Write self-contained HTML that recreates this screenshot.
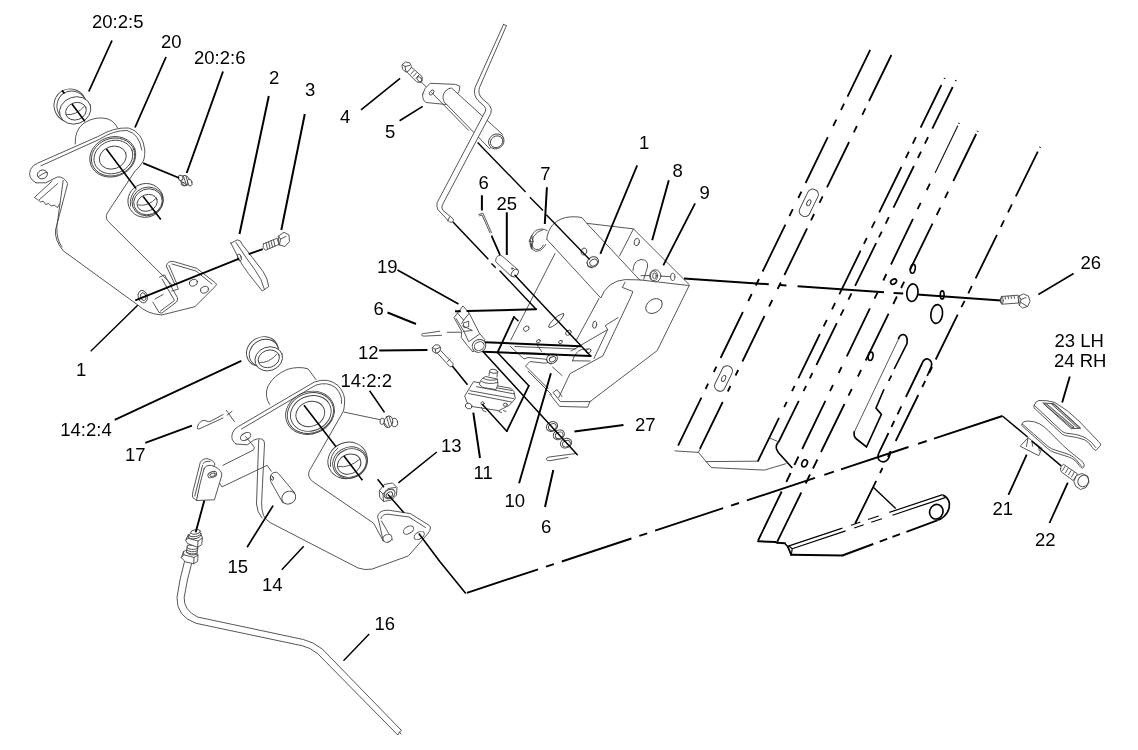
<!DOCTYPE html>
<html><head><meta charset="utf-8">
<style>
html,body{margin:0;padding:0;background:#fff;width:1138px;height:750px;overflow:hidden}
svg{display:block;position:absolute;left:0;top:0;will-change:transform;opacity:.999}
text{font-family:"Liberation Sans",sans-serif;font-size:18.5px;fill:#000}
.k{stroke:#000;stroke-width:1.65;fill:none;stroke-linecap:butt}
.k2{stroke:#000;stroke-width:1.65;fill:none;stroke-linecap:butt}
.k3{stroke:#000;stroke-width:1.15;fill:none}
.t{stroke:#444;stroke-width:.9;fill:none;stroke-linejoin:round;stroke-linecap:round}
.tw{stroke:#444;stroke-width:.9;fill:#fff;stroke-linejoin:round;stroke-linecap:round}
</style></head><body>
<svg width="1138" height="750" viewBox="0 0 1138 750">
<!-- LABELS -->
<g id="labels" style="opacity:.999">
<text x="92" y="28">20:2:5</text>
<text x="161" y="48">20</text>
<text x="194" y="64">20:2:6</text>
<text x="269" y="84">2</text>
<text x="305" y="96">3</text>
<text x="76" y="375.5">1</text>
<text x="60.3" y="436">14:2:4</text>
<text x="125" y="460.7">17</text>
<text x="340.5" y="386.5">14:2:2</text>
<text x="358" y="359.3">12</text>
<text x="441" y="451.5">13</text>
<text x="473.5" y="479.3">11</text>
<text x="227.5" y="572.5">15</text>
<text x="262" y="590.6">14</text>
<text x="374.5" y="630.3">16</text>
<text x="340" y="122.5">4</text>
<text x="385" y="137.7">5</text>
<text x="478.5" y="189.4">6</text>
<text x="496.5" y="209.5">25</text>
<text x="540.2" y="180.3">7</text>
<text x="639" y="149">1</text>
<text x="377" y="272.5">19</text>
<text x="635" y="431.2">27</text>
<text x="672.6" y="176.8">8</text>
<text x="699.5" y="199">9</text>
<text x="373.5" y="315">6</text>
<text x="504.5" y="507.4">10</text>
<text x="541" y="533.3">6</text>
<text x="1080.5" y="269">26</text>
<text x="1054.5" y="347">23 LH</text>
<text x="1054" y="367">24 RH</text>
<text x="992.5" y="515.3">21</text>
<text x="1035" y="546">22</text>
</g>
<!-- PART 20 group -->
<g id="p20" class="t">
<!-- bushing 20:2:5 -->
<ellipse cx="70.4" cy="105.6" rx="16.3" ry="16.8" transform="rotate(-25 70.4 105.6)"/>
<ellipse cx="72" cy="106.5" rx="15" ry="15.5" transform="rotate(-25 72 106.5)"/>
<ellipse cx="75.2" cy="110.4" rx="16" ry="13.4" transform="rotate(-20 75.2 110.4)" class="tw"/>
<ellipse cx="76" cy="111.2" rx="10.6" ry="8.6" transform="rotate(-20 76 111.2)"/>
<path d="M66.5 114.5Q76 116 84.5 106"/>
<!-- boss -->
<path d="M75.2 144Q74.5 130 84 123Q96 115.5 108 119Q114.5 121.5 117.6 128"/>
<!-- plate outline -->
<path d="M36 182.8Q27 178 30.5 169.5Q33 164.5 37.6 163.2L98 136.5Q114 127 128.5 128Q143 132 144.8 150Q145 160 142 163Q138 169 135.2 170.8L107.2 213.2Q104.5 218.5 109.6 222.8L171.8 284.6"/>
<path d="M41 165.8L99 139.5Q114 130 127 130.5Q139.5 134 141.8 150"/>
<path d="M36 182.8L45.6 182.8L57.6 176.9Q64 176.5 67.7 183.6L55.5 230Q54.5 240 63.2 250.8L137.7 304.9Q147 314 161.7 315L194.9 306.7L216.1 285.5Q217 284 215.5 283L196.7 268.3L173.7 261.5Q167.5 260.5 166.3 266.1L174.6 283.7"/>
<path d="M63.2 180.4L56.8 226.8Q56.5 240 62 247"/>
<path d="M52 181.2L34.4 197.5L37.6 199.6L40.8 202L43.2 201.2L45.6 204.4L48.8 203.6L51.2 206L54.4 205.2L57.6 207.6L59.5 204"/>
<path d="M57.6 183.6L39.5 199.5"/>
<!-- small hole -->
<ellipse cx="42.4" cy="174.4" rx="5.1" ry="4.4" transform="rotate(-20 42.4 174.4)"/>
<path d="M38.5 176.5L46 172"/>
<!-- main ring -->
<ellipse cx="112.8" cy="156.8" rx="23.4" ry="19.8" transform="rotate(-20 112.8 156.8)"/>
<ellipse cx="113.1" cy="157" rx="22.1" ry="18.6" transform="rotate(-20 113.1 157)"/>
<ellipse cx="113.4" cy="157" rx="19.8" ry="16.4" transform="rotate(-20 113.4 157)"/>
<ellipse cx="112.8" cy="157.6" rx="13.8" ry="11.2" transform="rotate(-20 112.8 157.6)"/>
<!-- lower bushing -->
<ellipse cx="145.6" cy="200.4" rx="17.8" ry="16.8" transform="rotate(-20 145.6 200.4)" class="tw"/>
<path d="M130.5 206Q129 196 136.5 189"/>
<ellipse cx="147.6" cy="201.4" rx="15.8" ry="14.2" transform="rotate(-20 147.6 201.4)"/>
<ellipse cx="148" cy="201.8" rx="14.5" ry="12.8" transform="rotate(-20 148 201.8)"/>
<ellipse cx="147.2" cy="202.8" rx="10.4" ry="8.2" transform="rotate(-20 147.2 202.8)"/>
<path d="M138 205Q148 207 156.5 198"/>
<!-- triangle loop + tab -->
<path d="M169 265.5L176.5 283M172 264L196 271L212 284"/>
<path d="M159.5 277.2L164.5 274.8L177.4 297.5Q178 301 176.5 302L161.7 313.2L158.9 312.3L152.8 302"/>
<path d="M162 279L174.5 300.5L160.5 311"/>
<path d="M171.8 291L178.3 289.2L176.5 284"/>
<path d="M155 299L163 294.5"/>
<ellipse cx="193.4" cy="282.7" rx="4.2" ry="3.2" transform="rotate(-20 193.4 282.7)"/>
<ellipse cx="204.5" cy="289.7" rx="4.2" ry="3.2" transform="rotate(-20 204.5 289.7)"/>
<!-- nut on left -->
<ellipse cx="142.8" cy="296.6" rx="4.6" ry="6.3" transform="rotate(-15 142.8 296.6)" class="tw"/>
<ellipse cx="143.3" cy="296.6" rx="2.6" ry="4" transform="rotate(-15 143.3 296.6)"/>
<!-- grease fitting 20:2:6 -->
<ellipse cx="185" cy="180.5" rx="4.3" ry="5.2" transform="rotate(-25 185 180.5)" class="tw"/>
<ellipse cx="180.6" cy="177.8" rx="2.3" ry="2.6" transform="rotate(-25 180.6 177.8)" class="tw"/>
<ellipse cx="189.8" cy="182.6" rx="2.2" ry="3.5" transform="rotate(-15 189.8 182.6)" class="tw"/>
<ellipse cx="183.6" cy="184.3" rx="2.6" ry="1.5" transform="rotate(20 183.6 184.3)"/>
<path d="M183.5 176.5L186.5 185M186 176L188.3 184.5M181 181L184 183"/>
<!-- pad 2 -->
<path d="M230.9 243.1L237.3 239.9Q241 240 242 244Q252 257 263.2 271.7Q268 279 268.7 286.5L262.3 291.1Q255 282 248.4 273.5Q243 266 239.2 259.7Q235 251 230.9 243.1Z" class="tw"/>
<path d="M236 242.5Q246 258 255 270Q262 279 264.5 289.5"/>
<ellipse cx="239.4" cy="257.5" rx="1.8" ry="3.6" transform="rotate(-15 239.4 257.5)"/>
<!-- bolt 3 -->
<path d="M263.5 243.8L277 238.2L279 244.5L265.5 250.2Q262 248 263.5 243.8Z" class="tw"/>
<path d="M266 243L267.5 249M268.5 242L270 248M271 241L272.5 247M273.5 240L275 246"/>
<path d="M278.5 236L284 232.3L289 235L289.5 241.5L285 246.5L279.5 245Z" class="tw"/>
<path d="M278.5 236L280.5 239L279.5 245M280.5 239L286 236.5"/>
</g>
<!-- PART 14 group -->
<g id="p14" class="t">
<!-- bushing 14:2:4 -->
<ellipse cx="262.4" cy="351.6" rx="16.4" ry="14.4" transform="rotate(-30 262.4 351.6)"/>
<ellipse cx="264" cy="353" rx="15.2" ry="13.2" transform="rotate(-30 264 353)"/>
<ellipse cx="268.8" cy="358.8" rx="14.1" ry="11.8" transform="rotate(-20 268.8 358.8)" class="tw"/>
<ellipse cx="268.8" cy="358.8" rx="10.9" ry="8.6" transform="rotate(-20 268.8 358.8)"/>
<path d="M259.5 362.5Q269 363.5 277 354"/>
<!-- boss -->
<path d="M269.6 404.4Q264 396 268 386Q274 375 287 369.5Q298 366 308 368.8L316 379.6"/>
<!-- plate outline -->
<path d="M236 444Q230 440 232.5 433Q234 428.5 238.4 426.5L314.4 382Q328 377 338 385.5Q346 394 344.5 404Q344 410 343.2 411.6L309.6 470.4Q306.5 476.5 312.8 481.6L373.6 523.2L383.2 540.8"/>
<path d="M241.5 429L315.5 385.3Q327.5 381 336 388Q342.5 395 341.5 403.5"/>
<path d="M236 444L247.2 444.8L253.6 440.2Q258 438 261.5 439Q265 440 264.5 444L261.6 502.4Q261.5 510 263.5 515.5Q266 520 270 522.5L358.1 568Q365 570.5 372 569.1L408.4 555.9L427.5 534Q431 530.5 430.4 527Q430 525.5 427 524L410.4 513.6L389.6 510.3Q381 509.5 378.2 514.5Q377 517 378.5 520L383.2 540.8"/>
<path d="M258.7 440L256.5 504Q257 512 262 518"/>
<path d="M381 518.5Q382 514 388 514.2L409 517L425.5 527.5"/>
<path d="M381.5 521L392.5 540"/>
<ellipse cx="387.5" cy="538.3" rx="4.6" ry="3.8" transform="rotate(-25 387.5 538.3)" class="tw"/>
<ellipse cx="408.5" cy="530.1" rx="5.6" ry="3.4" transform="rotate(-32 408.5 530.1)"/>
<ellipse cx="419.2" cy="535.5" rx="5.6" ry="3.4" transform="rotate(-32 419.2 535.5)"/>
<!-- arm hole -->
<ellipse cx="245.6" cy="436.5" rx="5.6" ry="3.4" transform="rotate(-28 245.6 436.5)"/>
<!-- construction lines -->
<path d="M245.6 436.5L254.4 447.2L253.6 449.9L222.9 465.3M214.4 475.2L221.9 486.9L267.2 465.3L271.2 471.2"/>
<!-- main ring -->
<ellipse cx="310" cy="412.8" rx="24.9" ry="21" transform="rotate(-22 310 412.8)"/>
<ellipse cx="310.4" cy="413" rx="23.6" ry="19.8" transform="rotate(-22 310.4 413)"/>
<ellipse cx="310.8" cy="413.4" rx="20.8" ry="17.4" transform="rotate(-22 310.8 413.4)"/>
<ellipse cx="310.3" cy="414" rx="14.7" ry="12.3" transform="rotate(-22 310.3 414)"/>
<!-- lower bushing -->
<ellipse cx="347.6" cy="460.4" rx="20" ry="18" transform="rotate(-22 347.6 460.4)" class="tw"/>
<path d="M330.5 466.5Q329 455 338 448" />
<ellipse cx="350" cy="462.6" rx="17.6" ry="15.4" transform="rotate(-22 350 462.6)"/>
<ellipse cx="350.4" cy="463" rx="16.2" ry="14" transform="rotate(-22 350.4 463)"/>
<ellipse cx="349.2" cy="464.1" rx="12" ry="9.8" transform="rotate(-22 349.2 464.1)"/>
<path d="M338.5 466.5Q349 468.5 360 459"/>
<!-- grease fitting 14:2:2 -->
<path d="M344 412.1L380 419.7" />
<ellipse cx="394.3" cy="422.5" rx="3.3" ry="4.2" transform="rotate(-10 394.3 422.5)" class="tw"/>
<ellipse cx="388.4" cy="421.8" rx="4.3" ry="5.9" transform="rotate(15 388.4 421.8)" class="tw"/>
<ellipse cx="382.2" cy="421.3" rx="2.2" ry="3.2" transform="rotate(10 382.2 421.3)" class="tw"/>
<path d="M386.5 416.5L389.5 427M389 416.3L391.8 424.5M385 423.5L387.5 427.5"/>
<!-- cotter 17 -->
<path d="M223 414.5L211.5 420.8Q208 422.5 206.5 421Q204.5 419.5 201.5 421Q197.5 423.5 197.3 427.5Q197.2 429.8 199 429L223 418"/>
<path d="M226.4 410.4L234.4 421.6M227.2 415.2L232 411.2"/>
<!-- clevis -->
<path d="M200.5 462Q203 458 208 458.8Q213.5 460 215 464L196.5 500.5L192.8 497.5Q192 495 192.8 492Z" class="tw"/>
<path d="M203 463.5Q205.5 460.5 210 461.5M194.8 496L202.5 465.5M197.2 497.5L205 467.5"/>
<path d="M204 469Q206 464.5 211.5 465.5Q219 467.5 221.6 473Q222 475 221.3 477L214.4 499.8L196.5 500.5Q199.5 484 204 469Z" class="tw"/>
<ellipse cx="212.3" cy="474.6" rx="4.6" ry="2.8" transform="rotate(-22 212.3 474.6)"/>
<ellipse cx="212.6" cy="474.8" rx="2.8" ry="1.5" transform="rotate(-22 212.6 474.8)"/>
<!-- pin 15 -->
<path d="M270.6 481Q269 474 274 472.5Q277 471.5 278.5 473.5L294.8 493L283 502.5Z" class="tw"/>
<ellipse cx="288.8" cy="497.6" rx="7.2" ry="6.2" transform="rotate(-30 288.8 497.6)" class="tw"/>
<ellipse cx="272" cy="478" rx="1.3" ry="2.4" transform="rotate(-20 272 478)"/>
<!-- nut 13 -->
<path d="M379.5 490.5L384 484.5L392.5 483L397 487.5L396.5 495L391.5 500L383.5 501.5L380 497.5Z" class="tw"/>
<path d="M379.5 490.5L383 494L383.5 501.5M383 494L388 488.5L395.5 487.5"/>
<ellipse cx="389.6" cy="494" rx="5.8" ry="4.3" transform="rotate(-32 389.6 494)"/>
<ellipse cx="389.3" cy="494.8" rx="3.6" ry="2.4" transform="rotate(-32 389.3 494.8)"/>
<!-- fitting + rod 16 -->
<path d="M191.6 563.5Q186.8 580 184.2 597.5Q183.5 610 197.5 617L303.3 639.5Q313 641.7 322.3 649L401.5 730.5L399.5 732L397.8 735L317.7 653.7Q310 647.3 302 645.7L196 623.3Q176.3 616.5 177 597.5Q179.3 580 184.5 561.5"/>
<path d="M399.5 732L401 734"/>
<!-- lower hex -->
<path d="M181.5 557.3L183.5 551.5L187 550L198 555L197.7 561.3L193.7 563.7L185.7 562Z" class="tw"/>
<path d="M193.7 563.7L194 557.5L198 555M194 557.5L183.8 554.8L181.5 557.3M183.8 554.8L183.5 551.5"/>
<!-- middle threads -->
<path d="M187.3 545.5L186.5 552.5Q191 556.5 197 554L198 546Z" class="tw"/>
<path d="M186.8 547.5Q191 551 197.8 548.5M186.6 549.8Q191 553.3 197.5 550.8M186.5 552Q191 555.5 197.2 553"/>
<!-- upper hex -->
<path d="M185.8 540L188.3 534.8L200.7 533.5L202.4 538L201.7 544.6L197.6 547.3L187.8 543.6Z" class="tw"/>
<path d="M197.6 547.3L198 541L202.4 538M198 541L188.2 538.3L185.8 540M188.2 538.3L188.3 534.8"/>
<!-- top threads -->
<ellipse cx="194.6" cy="536.2" rx="6.2" ry="2.5" transform="rotate(-8 194.6 536.2)" class="tw"/>
<ellipse cx="195" cy="534.2" rx="6" ry="2.4" transform="rotate(-8 195 534.2)" class="tw"/>
<ellipse cx="195.6" cy="531.9" rx="4.8" ry="2.2" transform="rotate(-8 195.6 531.9)" class="tw"/>
</g>
<!-- CENTER group -->
<g id="pc" class="t">
<!-- bolt 4 -->
<path d="M402.3 64.5L405.5 62L409.8 62.8L411.5 66.5L410 70.5L406 72L402.8 69.5Z" class="tw"/>
<path d="M402.3 64.5L405 66.5L406 72M405 66.5L409.5 65.5"/>
<path d="M407.3 72L411.8 67.5L422 76.5Q423 79.5 421 81.8Q419 83.2 417 82Z" class="tw"/>
<path d="M411 74L414 70.5M413.5 76.2L416.5 72.8M416 78.4L419 75"/>
<ellipse cx="419.6" cy="79.4" rx="2" ry="3.2" transform="rotate(-42 419.6 79.4)"/>
<path d="M420.5 81.2L431.2 91.9"/>
<!-- part 5 -->
<path d="M422.7 94Q424 88 430.1 83.3L455.7 84.4L460 86.5L458.9 91.9L448.3 104.7L425.9 102.5Q422 99.5 422.7 94Z" class="tw"/>
<ellipse cx="431.6" cy="92.5" rx="1.7" ry="3" transform="rotate(40 431.6 92.5)"/>
<path d="M431.6 92.5L468.5 130.3"/>
<path d="M444 101.5Q441.5 96 445 91.5Q448 88 451.5 88L502.7 134.5L489.9 148.4Z" class="tw"/>
<ellipse cx="496.3" cy="141.4" rx="8.1" ry="7.2" transform="rotate(-35 496.3 141.4)" class="tw"/>
<ellipse cx="496.6" cy="141.7" rx="6.5" ry="5.6" transform="rotate(-35 496.6 141.7)"/>
<!-- long rod -->
<path d="M503.5 24.5L506.5 25.5L479.5 87.5Q477.5 93.5 482 98.5L489.5 105Q492.5 109 490.8 113.5L442.4 204.8Q441 208 443 210.5L453 218.7Q454 220 453 221.5Q451.5 222.8 449.5 222L438 209.8Q436.2 206.5 437.1 202.7L485.5 111Q486.5 108.5 484.5 106.5L478 100.5Q473 95 475 87.6L503.5 24.5Z" class="tw"/>
<path d="M449.5 217L447.7 221"/>
<!-- cotter 6 top -->
<path d="M478.7 214.4L482.9 213.3L491.5 232.5M479.5 215.8L482 215L490 233"/>
<!-- sleeve 25 -->
<path d="M495.7 261.3Q495.5 256.5 499 255.5Q501 255 502.1 256L518.1 269.9L511.7 276.3Z" class="tw"/>
<ellipse cx="514.9" cy="273.1" rx="3" ry="4.4" transform="rotate(40 514.9 273.1)" class="tw"/>
<circle cx="512.2" cy="268.5" r=".8"/>
<!-- snap ring 7 -->
<path d="M547.2 230.6Q542 227.3 535.6 230.6Q531 234.5 530 243.4Q530.3 249 535.6 251.4Q540.4 252 544.4 246.6L545.6 244.6"/>
<path d="M542.8 229.8Q537.2 230.5 533.2 237Q531.5 243 532.8 247.4Q534.5 250 538.5 249.6Q541.5 248.6 543.6 245"/>
<path d="M529.2 241L531.6 235.4L533.2 241.8Z"/>
<path d="M531 243.5L531.8 248.5" style="stroke-width:1.6"/>
<!-- BOX 8 -->
<path d="M546.7 239.2Q547.5 231 553 224.5Q560 217.5 570.9 216.8Q579 216.5 582.1 217.7L586.8 223.3L633.5 228.9L689.5 284.9L657.2 350.6L590 401.6L587.6 407.2L559.6 406.4L550 394.4"/>
<path d="M546.7 239.2L600.8 298Q603 291 610 285Q617 280 625.1 279.6L640 279.9L688.5 285.5"/>
<path d="M586.8 223.3L640 280.3"/>
<path d="M633.5 228.9L619.5 256"/>
<path d="M555 253.5L510.8 340"/>
<path d="M599 298.5L576.4 340"/>
<path d="M625.1 282.1L622.3 287.4L632.9 291.5L630.7 297.1L602.8 356L570 373.6L558.8 397.6"/>
<path d="M590 401.6L560.4 401.6L553 392.5L557 389.5L562 396.5"/>
<path d="M633 270.5Q633 261 641 259.5Q648.5 259.5 647.5 267L643.7 279.3"/>
<ellipse cx="636.8" cy="242" rx="2.6" ry="3.7" transform="rotate(15 636.8 242)"/>
<ellipse cx="654" cy="306" rx="9" ry="6.6" transform="rotate(-35 654 306)"/>
<ellipse cx="584" cy="251.5" rx="2.8" ry="3.6" transform="rotate(20 584 251.5)"/>
<!-- nut 1 -->
<ellipse cx="592.8" cy="262" rx="6" ry="5" transform="rotate(-30 592.8 262)" class="tw"/>
<ellipse cx="593.6" cy="262.6" rx="4" ry="3.2" transform="rotate(-30 593.6 262.6)"/>
<path d="M587 262.5L588 266.5L592 268"/>
<!-- nut 9 -->
<path d="M641 275.6L649.5 275.6M660.5 276.2L669.9 276.5"/>
<ellipse cx="655.3" cy="275.8" rx="5.6" ry="6" class="tw"/>
<ellipse cx="654" cy="275.8" rx="3.6" ry="5"/>
<ellipse cx="654.5" cy="275.8" rx="1.8" ry="3"/>
<ellipse cx="672.7" cy="276.9" rx="2.2" ry="3.7"/>
<!-- box face holes -->
<ellipse cx="526.3" cy="328.6" rx="3" ry="2.4" transform="rotate(-35 526.3 328.6)"/>
<ellipse cx="556.3" cy="320.5" rx="10" ry="2.6" transform="rotate(-42 556.3 320.5)"/>
<ellipse cx="568.4" cy="332.7" rx="3" ry="2.3" transform="rotate(-35 568.4 332.7)"/>
<ellipse cx="594.7" cy="324.7" rx="2" ry="3.6" transform="rotate(10 594.7 324.7)"/>
<ellipse cx="538.4" cy="341.2" rx="2" ry="1.5" transform="rotate(-35 538.4 341.2)"/>
<ellipse cx="560.5" cy="342" rx="2" ry="1.5" transform="rotate(-35 560.5 342)"/>
<ellipse cx="588.6" cy="351" rx="2.6" ry="2" transform="rotate(-35 588.6 351)"/>
<!-- gusset -->
<path d="M571 351L607.6 329.6L605.2 325.6L618 317.6M607.6 329.6L594 358.4M572.5 360.8Q575 352 581.5 349.5L588 349M572.5 360.8L590 361"/>
<!-- channel under box -->
<path d="M510.4 346.5L524 359L528 357.5L544 359Q549 359.5 548.5 361.5Q548 363.5 543 363L530 361.5L525.5 366L548 388.5M528 371L551.5 394.5M515 346.5L576 349M521 352.5L545 353.5M536.5 344L541.5 351.5M552.5 367L562 375.5"/>
<!-- nut 10 -->
<ellipse cx="552" cy="358.7" rx="5.6" ry="4.6" transform="rotate(-25 552 358.7)" class="tw"/>
<ellipse cx="552.5" cy="359.2" rx="3.4" ry="2.4" transform="rotate(-25 552.5 359.2)"/>
<path d="M546.8 359.5L547.8 362.5L551 364"/>
<!-- pivot 19 -->
<path d="M463.3 306.2L467.3 310.9L469.2 313.2L479.4 333.3L485 339.8L472.9 352L467.3 345.4L461.2 337.5L461.7 331.4L454.2 317.9Z" class="tw"/>
<path d="M457.5 313.2L463.6 320.2L469.2 313.2M456.1 318.6L463.6 330.9L468.7 341.7L479.4 334.2M463.6 320.2L461.6 323.5"/>
<path d="M463.6 323L468.7 321.1L468.7 326.7L464.5 327.7Z"/>
<path d="M462.6 325.8L472.4 330.5L463.6 331.4"/>
<ellipse cx="479" cy="345.9" rx="7" ry="6.3" transform="rotate(-25 479 345.9)" class="tw"/>
<ellipse cx="479.2" cy="346.1" rx="5.1" ry="4.1" transform="rotate(-25 479.2 346.1)"/>
<!-- cotter 6 left -->
<path d="M439.7 331.2L425.7 333.3Q421.5 333 421.6 334.8Q421.8 336.5 424.5 336.1L441.6 335.3"/>
<path d="M447.2 332.3L460.8 332.2"/>
<!-- bolt 12 -->
<path d="M432.5 347.5L435 344.8L438.8 345L440.8 348L439.5 351.8L436 353.3L433 351.5Z" class="tw"/>
<path d="M432.5 347.5L435.2 349.2L436 353.3M435.2 349.2L440 347.5"/>
<path d="M437.8 353L440.6 350.5L453 363.5Q453.5 365.5 452.3 366.5Q451 367.2 449.8 366.5Z" class="tw"/>
<path d="M447.5 361.5L450.2 359"/>
<!-- switch 11 -->
<path d="M473.3 382L464.7 396L467 402.5L473.3 406.7L498.7 410.7L509.3 405.3L515.3 398.7L514 391.5L511 388.5Z" class="tw"/>
<path d="M470 390.7L514 398.7M468.5 393.5L511.5 402M476.5 386.7L514.7 394M480 385L512 390.5"/>
<path d="M479.5 384Q480 379 485.5 376.5L497.5 379Q499 385 496 389.5L483 387.5Z" class="tw"/>
<path d="M481.5 381.5Q488 385 497.8 382.5M483.5 378.5Q489 381.5 497.5 379.5"/>
<path d="M489 375.5L489.5 371.5Q493 369 497.5 371.5L497 377" class="tw"/>
<ellipse cx="493.6" cy="371.3" rx="4.1" ry="2" transform="rotate(8 493.6 371.3)" class="tw"/>
<ellipse cx="468.6" cy="406" rx="3.4" ry="2.7" transform="rotate(20 468.6 406)" class="tw"/>
<circle cx="482.6" cy="403.4" r="1.6"/>
<ellipse cx="505.3" cy="404.7" rx="2" ry="1.6"/>
<path d="M481.5 407.5Q482 411.5 486 412M499 411.5L501.5 412.5M503.5 410.5L506 411.5"/>
<!-- washers 27 -->
<ellipse cx="552" cy="426.5" rx="5.8" ry="4.7" transform="rotate(-25 552 426.5)" class="tw"/>
<ellipse cx="552.4" cy="427" rx="4" ry="3.1" transform="rotate(-25 552.4 427)"/>
<ellipse cx="558.8" cy="434.8" rx="5.8" ry="4.7" transform="rotate(-25 558.8 434.8)" class="tw"/>
<ellipse cx="559.2" cy="435.3" rx="4" ry="3.1" transform="rotate(-25 559.2 435.3)"/>
<ellipse cx="566" cy="443.2" rx="5.8" ry="4.7" transform="rotate(-25 566 443.2)" class="tw"/>
<ellipse cx="566.4" cy="443.7" rx="4" ry="3.1" transform="rotate(-25 566.4 443.7)"/>
<!-- cotter 6 bottom -->
<path d="M576 453.5L549 457Q546 457.8 546.5 459.5Q547 461 550 460.7L568 457.5"/>
</g>
<!-- RIGHT group -->
<g id="pr">
<g class="k2">
<path d="M873.3 487.2L895.7 508.5" style="stroke-width:1.4"/>
<path d="M784.8 543.3L788 547" style="stroke-width:1.5;stroke-linecap:round"/>
<path d="M870.2 49.8L847.5 96.6M844.1 103.6L841 110M836.3 119.6L833.2 126M827.8 137.2L805.6 183M801.4 191.6L798.3 198M792.8 209.2L789.4 216.2M785.4 224.6L762.6 271.5M759 279L755.8 285.5M751.7 294L748.3 301M742.9 312L720.6 358M716.4 366.7L713.8 372M708.1 383.7L705.6 389M701.4 397.6L678.1 445.6M891.4 55L869 101M865.4 108.4L862.3 114.8M856.9 126L853.8 132.4M849.1 142L827 187.4M822.6 196.4L819.5 202.8M814.1 214L811 220.4M807.1 228.4L784.4 275M780.8 282.5L777.6 289M772.3 300L769.1 306.5M764.5 316L742.4 361.5M738.2 370L735.5 375.5M730.4 386L727.8 391.5M722.7 402L699.9 448.8M944.8 78L944.4 78.8M941.4 85L920.6 127.6M915.9 137.2L912.8 143.6M908.9 151.6L905.8 158M901.4 167L879.2 212.4M874.9 221.4L871.7 227.8M866.8 238L863.9 243.8M860.6 250.7L839.3 294.4M835.1 303L832 309.3M826.8 320L823.6 326.4M819.9 334L798.3 378.4M794.6 385.9L792 391.2M786.8 401.9L784.2 407.2M779 417.9L757.7 461.6M956 80.2L955.6 81M952.7 87L932.3 128.6M928.1 137.2L924.9 143.6M921 151.6L917.9 158M913.9 166L893.5 207.6M888.8 217.2L885.7 223.6M881.8 231.6L878.9 237.4M876.1 243.2L855.1 285.9M851.5 293.3L848.4 299.7M843.7 309.3L840.5 315.7M836.8 323.2L816.4 365M812.4 373L809.8 378.4M806.1 385.9L803.5 391.2M798.8 400.8L778.4 442.4M959.2 122.8L958.8 123.6M929.9 183.6L926.8 190M920.7 202.8L917.6 209.2M913 218.8L891 264.5M886.4 274L883.3 280.5M877.6 292.3L874.5 298.7M869.9 308.3L846.8 356.3M841.6 367L838.7 373M833 385L830 391.2M825.4 400.8L802.2 449M798.5 456.5L794.4 465M790.6 473L786.3 482M781.7 491.5L758.1 540.5M977.8 130.8L977.4 131.6M976.2 134L953.3 181M948.1 191.6L945 198M940.3 207.6L936.7 215M932.5 223.6L909.9 270M904.2 281.6L901.1 288M896.9 296.5L893.3 304M888.6 313.6L865.7 360.5M861.1 370L857.9 376.5M851.8 389L848.5 395.7M844.5 404L821 452M817.4 459.5L813 468.5M810 474.5L805.7 483.5M801.3 492.5L777.3 541.6M1040.2 146.8L1039.8 147.6M1037.8 151.6L1015.8 196.4M1011.9 204.4L1008 212.4M1004.1 220.4L1000.9 226.8M997 234.8L975.6 278.4M971.8 286L968.3 293.3M964.6 300.8L961.4 307.2M957.7 314.7L935.7 359.5M932.1 367L929.1 373M925.2 381L922.2 387M918.3 395L895.7 441M890.3 452L887.9 457M882.5 468L880 473M876.2 480.8L855.2 523.5M922.3 363L905.9 397M901.3 406.4L897.5 414.4M894.3 421L891.4 427M888.5 433L878.9 452.8" style="stroke-width:1.8"/>
<path d="M466.9 592.8L538.1 569.3M546 566.7L553.9 564.1M561.8 561.5L631.4 538.5M639.3 535.9L647.2 533.3M655.1 530.7L723.1 508.2M731 505.6L739 503M746.9 500.4L815 477.9M824.3 474.8L833.9 471.6M841 469.3L908.5 447M918 443.9L926.7 441M934 438.6L1002.4 416M842.4 555.5L873.3 544M879.7 541.7L887.2 538.9M892.5 536.9L900 534.1M906.4 531.8L937.3 520.3" style="stroke-width:1.9"/>
<path d="M775.2 542L777.3 542.7M788 547L791.2 554.8" style="stroke-width:1.9;stroke-linecap:round"/>
<path d="M684 278.4L768.8 284.3M780 285.1L786.4 285.5M797.6 286.3L884 292.3M893.6 292.9L903.2 293.6M917 294.6L1001 300.4" style="stroke-width:2"/>
<path d="M758.1 541.2L775.2 542M777.3 542.7L784.8 543.3M791.2 554.8L842.4 555.5" style="stroke-width:2;stroke-linecap:round"/>
<path d="M778.4 442.4Q775.5 445 776.5 449Q777.5 452 781 455.5L792.3 468"/>
<path d="M898.4 339.3Q899.5 334.5 903.5 334.5Q908 335.5 907 343.5L894.2 369M891.5 375.5L888.7 380.8M884 389.3L876 408L881.4 414.4L866.5 447L856.5 439Q853 436 854.4 431"/>
<path d="M922.3 363Q924 358.5 928 359Q932.5 360.5 931.4 366.4L927.2 376M878.9 452.8Q877 457 879 460Q882 463 886 461Q890 458.5 890.4 451"/>
<path d="M942.7 495.1Q948 497 949.3 503Q950 511 944 516.5Q941 519.5 937.3 520.3"/>

<!-- L4 curve bottom -->
<!-- slot1 thick -->
<!-- slot2 top arc + bottom -->
<!-- holes -->
<ellipse cx="912.8" cy="268.8" rx="2.4" ry="4.5" transform="rotate(10 912.8 268.8)"/>
<ellipse cx="893.6" cy="281.6" rx="3.2" ry="2.3" transform="rotate(-35 893.6 281.6)"/>
<ellipse cx="912.4" cy="292.7" rx="5.6" ry="8.8" transform="rotate(8 912.4 292.7)"/>
<ellipse cx="942.2" cy="295" rx="1.9" ry="4.1"/>
<ellipse cx="936.7" cy="314" rx="5.8" ry="9.4" transform="rotate(8 936.7 314)"/>
<ellipse cx="870.6" cy="356.3" rx="2.4" ry="4.2" transform="rotate(10 870.6 356.3)"/>
<ellipse cx="804.6" cy="463.3" rx="2.6" ry="3.7" transform="rotate(25 804.6 463.3)"/>
<!-- bracket -->
<ellipse cx="936.3" cy="511.7" rx="6.6" ry="7.4" transform="rotate(20 936.3 511.7)"/>
</g>
<g class="k3">
<path d="M789.0 545.9L842.4 528.1M851.0 525.2L860.5 522.0M868.0 519.5L878.7 516.0M889.3 512.4L942.7 494.6"/>
<path d="M792.2 548.7L845.6 530.9M854.2 528.0L863.7 524.8M871.2 522.3L881.9 518.8M892.5 515.2L945.2 497.6"/>
<path d="M789 545.9L792.2 548.7L791.4 554.5M789 545.9L787 546.6"/>
</g>
<g class="t">
<!-- L5 thin top -->
<path d="M957.7 126L935.3 172.4" style="stroke:#111;stroke-width:1.1"/>
<!-- slot on L1/L2 upper -->
<rect x="803.3" y="188.3" width="11" height="29" rx="5" transform="rotate(25.9 808.8 202.8)"/>
<ellipse cx="808.8" cy="202.8" rx="1.8" ry="3.2" transform="rotate(25.9 808.8 202.8)"/>
<rect x="718.3" y="365" width="10.6" height="27" rx="5" transform="rotate(25.9 723.6 378.4)"/>
<ellipse cx="723.6" cy="378.4" rx="1.8" ry="3.2" transform="rotate(25.9 723.6 378.4)"/>
<!-- slot1 thin left edge -->
<path d="M898.4 339.3L854.6 431.4"/>
<!-- bottom plate -->
<path d="M674.9 450.9L698.4 452.4L699.9 449.5M698.4 452.4L711.2 467.6L764.5 470.1L785.9 463.7M705.9 461.6L757.1 461.2M769.9 438.1L777.3 441.3"/>
<!-- bolt 26 -->
<path d="M1001.5 296.5L1018 295.2L1018.6 303L1002 304.2Q999.8 300.5 1001.5 296.5Z" class="tw"/>
<ellipse cx="1001.8" cy="300.4" rx="1.4" ry="3.6"/>
<path d="M1005 296.5L1005.5 299M1008 296.2L1008.5 298.7M1011 296L1011.5 298.5M1014 295.8L1014.5 298.3"/>
<path d="M1019 296L1023.5 294L1028.5 296L1030 301.5L1027.5 306.5L1022.5 308L1019.5 305.5Z" class="tw"/>
<path d="M1019 296L1021 299.5L1019.5 305.5M1021 299.5L1026 297.5M1021 302.5L1027.5 306.5"/>
<!-- pedal pad -->
<path d="M1034.2 405.2Q1035.5 401 1038.8 400.5Q1047 400 1054.7 402.4Q1068 410 1079 421.1L1099.5 442.6Q1101.5 444 1100.5 445.4L1095.8 450.6Q1094 450 1092.1 447.2Q1089 442 1084.6 439.8Q1077 437 1067.8 436Q1064 435.5 1062.2 434.2L1034.2 408Z" class="tw"/>
<path d="M1034.2 405.2L1062.2 431.5Q1065 433.5 1069 433.5Q1080 434.5 1086.5 438.5Q1092 442 1095.8 447.5"/>
<path d="M1043.2 403L1054 403.7L1080.8 428.3L1071.5 428.6Z"/>
<path d="M1044.4 404.1L1046.6 403.9L1074.2 427.2L1072.4 427.6Z" style="fill:#bdbdbd"/>
<path d="M1052 404.1L1054.2 404.3L1080 427.8L1078.4 428.1Z" style="fill:#bdbdbd"/>
<!-- pedal arm -->
<path d="M1022.2 423.2Q1023.5 421.2 1027.3 421Q1034 421 1039.3 423.7Q1044.5 426.5 1048.7 431L1063.3 445.7Q1068 450 1072.7 453.7L1080.7 460.3Q1084 462.5 1084.2 464.8Q1084.3 467.5 1082.7 468.1Q1081 468.2 1079.3 465.7Q1077 462 1074 459.7Q1071.5 458 1068.7 457L1054 452.3Q1050 450.8 1047.3 448.3L1022 425.7Z" class="tw"/>
<path d="M1022.3 424L1048 446.5Q1051 449 1056 450.3L1069 454.5Q1073.5 456.5 1076.5 460Q1079 463.5 1082 466.5"/>
<!-- clip 21 -->
<path d="M1020.7 445.7L1028 437.7L1042 448.3L1038.7 455.7L1020.7 446.5Z" class="tw"/>
<path d="M1028 437.7L1026.5 446.5M1032 442L1032.7 446.3M1038.7 447L1039.3 451"/>
<!-- bolt 22 -->
<path d="M1060.5 468.5Q1060.5 465.5 1063.5 464.3L1077.5 473.8L1073.2 480.6L1061.5 472Q1060.3 470.5 1060.5 468.5Z" class="tw"/>
<path d="M1065 466.5L1062.5 470.5M1068 468.5L1065.5 472.7M1071 470.5L1068.5 474.8M1074 472.5L1071.5 477"/>
<path d="M1074 481L1076.5 475.5L1082 473.5L1087.5 476L1089 482L1086 487.5L1080.5 489.5L1076 486.5Z" class="tw"/>
<ellipse cx="1083.3" cy="481" rx="5.2" ry="6" transform="rotate(30 1083.3 481)"/>
</g>
</g>
<!-- PARTS -->
<!-- LEADERS -->
<g id="leaders" class="k">
<path d="M137.7 305.2L90.7 351.3M369.2 633.9L343.5 660.7M477.6 142.5L525.6 192M529.9 197.3L543 210.5M546.3 214.8L589.6 259.5M491.5 263.5L495.7 267.7" style="stroke-width:1.4"/>
<path d="M388 494.4L404 512.8M303.7 546.2L281.8 569.8M453 221.9L488.3 259.2M1002.4 416L1027.6 437M1031.6 441L1061.2 465.9" style="stroke-width:1.5"/>
<path d="M500 271L536.1 309.3M514.9 275.2L590.6 356.1M483.2 351.8L577.3 454.7M518 320.7L514 317M497.5 352.5L528.8 385.8M506.8 431.2L482.5 404.5" style="stroke-width:1.5;stroke-linecap:round"/>
<path d="M72 104L84.8 121.3M61.9 90.4L64.5 93.6M106.4 149.1L136 188.4M143.2 196.4L160.8 219.6M369.6 390.8L384.5 412.4M436.8 452L398.4 482.9M304 405.2L336 446.8M344 456L362.4 480.3M377.6 479.2L384 487.2M418.8 533.4L440 561.8M400.1 78.4L361 109.8M452.3 366L467.5 384.8M440 561.8L465.8 593.6" style="stroke-width:1.6"/>
<path d="M273.1 505.6L247.1 547.2M422.7 106.4L399.6 120.7M397.5 270L458.5 304M1073.6 273.6L1038.4 294.4" style="stroke-width:1.7"/>
<path d="M112 40.5L88.8 91.5M166 57L135 127.5M143.2 163.1L179.2 178M114.7 419.9L241.3 360.9M637.2 165.3L600.3 253.9M695.1 203.4L663.3 265.3M491.5 235.7L500 254.9M1026.7 454.7L1008.4 494.9M1067.8 482.7L1049.5 523" style="stroke-width:1.8"/>
<path d="M514 317L497.5 352.5M528.8 385.8L506.8 431.2" style="stroke-width:1.8;stroke-linecap:round"/>
<path d="M223 71.5L186.7 173M135.3 300.3L239.2 258.7M248.7 254.1L262.8 249.2M145.3 442.8L192 425.6M204.3 500.6L195.7 532.3M668.8 180.3L652.2 240.3M550.9 373.2L519.1 483.3M1069.8 376.4L1062.2 402.4M387.5 312.5L416 324" style="stroke-width:1.9"/>
<path d="M268.8 96L239.5 234M304.8 114L281.3 230M379.2 350.6L427.5 350M473.3 412.7L480 458M481.9 195.2L481.9 210.6M506.8 212.3L506.8 254.9M546.9 187.3L544.8 224M460.8 311.2L455 311.3M485 342.3L581 346.3M574.4 431.4L623.5 425M553.3 470L545 507" style="stroke-width:2"/>
<path d="M536.1 309.3L467.3 310.9M590.6 356.1L483.2 351.8" style="stroke-width:2;stroke-linecap:round"/>



</g>

</svg>
</body></html>
